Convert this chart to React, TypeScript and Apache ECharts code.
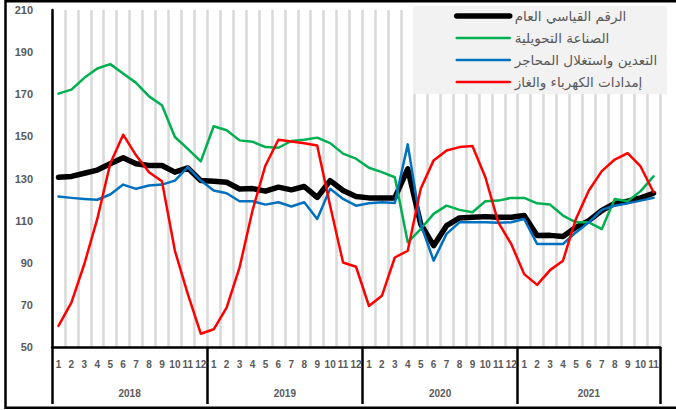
import React, { useEffect, useRef } from 'react';
import * as echarts from 'echarts';

// ---- data ----
const years = ['2018', '2019', '2020', '2021'];
const monthsPerYear = [12, 12, 12, 11];
const yMin = 50;
const yMax = 210;
const yStep = 20;

const seriesNames = [
  'الرقم القياسي العام',
  'الصناعة التحويلية',
  'التعدين واستغلال المحاجر',
  'إمدادات الكهرباء والغاز',
];
const seriesColors = ['#000000', '#00B050', '#0070C0', '#FF0000'];

const generalIndex = [
  130.6, 131, 132.5, 134, 137, 139.8, 137, 136.2, 136.2, 133, 135, 129,
  128.7, 128.2, 125, 125.2, 124, 125.9, 124.6, 126.2, 121, 129, 124.3, 121.5,
  120.8, 120.8, 120.8, 134.6, 108.4, 98.1, 107.6, 111.3, 111.6, 111.9, 111.6, 111.6,
  112.4, 102.9, 103, 102.5, 106.8, 110, 114.8, 118.2, 119.2, 120.8, 123,
];
const manufacturing = [
  170.3, 172.2, 177.8, 182.2, 184.3, 179.8, 175.4, 169, 164.8, 149.7, 144.1, 138.1,
  154.8, 152.9, 148.1, 147.5, 144.9, 144.6, 147.8, 148.4, 149.4, 146.8, 141.8, 139.4,
  135.1, 133, 130.6, 99.7, 106, 113.2, 117.1, 115.1, 114, 119.2, 119.5, 120.8,
  120.8, 118.2, 117.6, 112.4, 109.2, 109.2, 106, 120.3, 119.2, 124, 131,
];
const mining = [
  121.4, 120.8, 120.3, 119.9, 122.4, 127.1, 125.1, 126.7, 127.1, 129, 135.4, 129,
  124.3, 123, 119.2, 119.2, 117.6, 118.7, 116.7, 118.7, 110.8, 125.1, 120.3, 117.1,
  118.2, 118.7, 118.4, 146.2, 108.4, 91, 103.7, 109.2, 109.2, 109.2, 109, 109.2,
  110.8, 98.9, 98.9, 98.9, 104.4, 109.2, 115.1, 117.1, 118.2, 119.5, 120.8,
];
const electricity = [
  60, 71.1, 89.4, 110.8, 137, 150.8, 141, 133, 128.7, 95.7, 75.1, 56.3,
  58.4, 68.7, 87.8, 114.8, 136.2, 148.4, 147.6, 146.7, 145.7, 117.1, 90.1, 88.1,
  69.5, 74.3, 92.5, 95.7, 125.1, 138.6, 143.3, 144.9, 145.4, 130.6, 109.2, 98.9,
  84.6, 79.5, 86.5, 91, 110.8, 124.3, 133.5, 139, 142, 135.7, 123.5,
];
const seriesValues = [generalIndex, manufacturing, mining, electricity];
const seriesWidths = [5.5, 2.5, 2.5, 2.5];

// ---- derived ----
const monthCategories: string[] = years.flatMap((y, i) =>
  Array.from({ length: monthsPerYear[i] }, (_, m) => `${y}-${m + 1}`)
);
const boundaries: number[] = [0];
monthsPerYear.forEach((n, i) => boundaries.push(boundaries[i] + n));
const totalMonths = boundaries[boundaries.length - 1];
const halfSlots = Array.from({ length: totalMonths * 2 + 1 }, (_, k) => `s${k}`);
const yearTickSlots = boundaries.map((b) => b * 2);
const yearLabelSlots: Record<number, string> = {};
years.forEach((y, i) => {
  yearLabelSlots[boundaries[i] + boundaries[i + 1]] = y;
});

const labelGray = '#595959';

export default function App() {
  const ref = useRef<HTMLDivElement>(null);
  useEffect(() => {
    if (!ref.current) return;
    const chart = echarts.init(ref.current, undefined, { renderer: 'svg' });
    chart.setOption({
      animation: false,
      backgroundColor: '#ffffff',
      grid: { left: 52, right: 16, top: 10, bottom: 63, outerBoundsMode: 'none' },
      legend: {
        orient: 'vertical',
        left: 454,
        top: 9,
        padding: 0,
        itemWidth: 53,
        itemHeight: 14,
        itemGap: 8,
        data: seriesNames,
        itemStyle: { opacity: 0 },
        lineStyle: { width: 'inherit' },
        textStyle: {
          fontFamily: 'DejaVu Sans',
          fontSize: 13.5,
          color: labelGray,
        },
      },
      graphic: [
        {
          type: 'rect',
          z: 1,
          silent: true,
          shape: { x: 413, y: 6, width: 254, height: 88 },
          style: { fill: '#f2f2f2' },
        },
        {
          type: 'rect',
          z: 10,
          silent: true,
          shape: { x: 5.5, y: 1.25, width: 690, height: 406.5 },
          style: { fill: 'none', stroke: '#000', lineWidth: 2.5 },
        },
      ],
      xAxis: [
        {
          type: 'category',
          data: monthCategories,
          boundaryGap: true,
          position: 'bottom',
          axisLine: { show: true, lineStyle: { color: '#000', width: 2.5 } },
          axisTick: { show: false },
          axisLabel: {
            interval: 0,
            margin: 12,
            color: labelGray,
            fontWeight: 'bold',
            fontSize: 10,
            fontFamily: 'Liberation Sans',
            formatter: (v: string) => v.split('-')[1],
          },
          splitLine: { show: true, lineStyle: { color: '#d9d9d9', width: 2.5 } },
        },
        {
          type: 'category',
          data: halfSlots,
          boundaryGap: false,
          position: 'bottom',
          offset: 0,
          axisLine: { show: false },
          axisTick: {
            show: true,
            length: 57,
            interval: (i: number) => yearTickSlots.includes(i),
            lineStyle: { color: '#000', width: 2.5 },
          },
          axisLabel: {
            interval: (i: number) => yearLabelSlots[i] !== undefined,
            margin: 41,
            color: labelGray,
            fontWeight: 'bold',
            fontSize: 10,
            fontFamily: 'Liberation Sans',
            formatter: (_v: string, i: number) => yearLabelSlots[i] ?? '',
          },
          splitLine: { show: false },
        },
      ],
      yAxis: {
        type: 'value',
        min: yMin,
        max: yMax,
        interval: yStep,
        axisLine: { show: true, lineStyle: { color: '#000', width: 2.5 } },
        axisTick: { show: false },
        splitLine: { show: false },
        axisLabel: {
          margin: 19,
          color: labelGray,
          fontWeight: 'bold',
          fontSize: 11,
          fontFamily: 'Liberation Sans',
        },
      },
      series: seriesNames.map((name, i) => ({
        name,
        type: 'line',
        xAxisIndex: 0,
        data: seriesValues[i],
        symbol: 'none',
        showSymbol: false,
        color: seriesColors[i],
        lineStyle: {
          color: seriesColors[i],
          width: seriesWidths[i],
          cap: 'round',
          join: 'round',
        },
        z: 2 + i,
      })),
    });
    return () => chart.dispose();
  }, []);
  return (
    <div
      ref={ref}
      style={{ position: 'absolute', left: 0, top: 0, width: 676, height: 410 }}
    />
  );
}
